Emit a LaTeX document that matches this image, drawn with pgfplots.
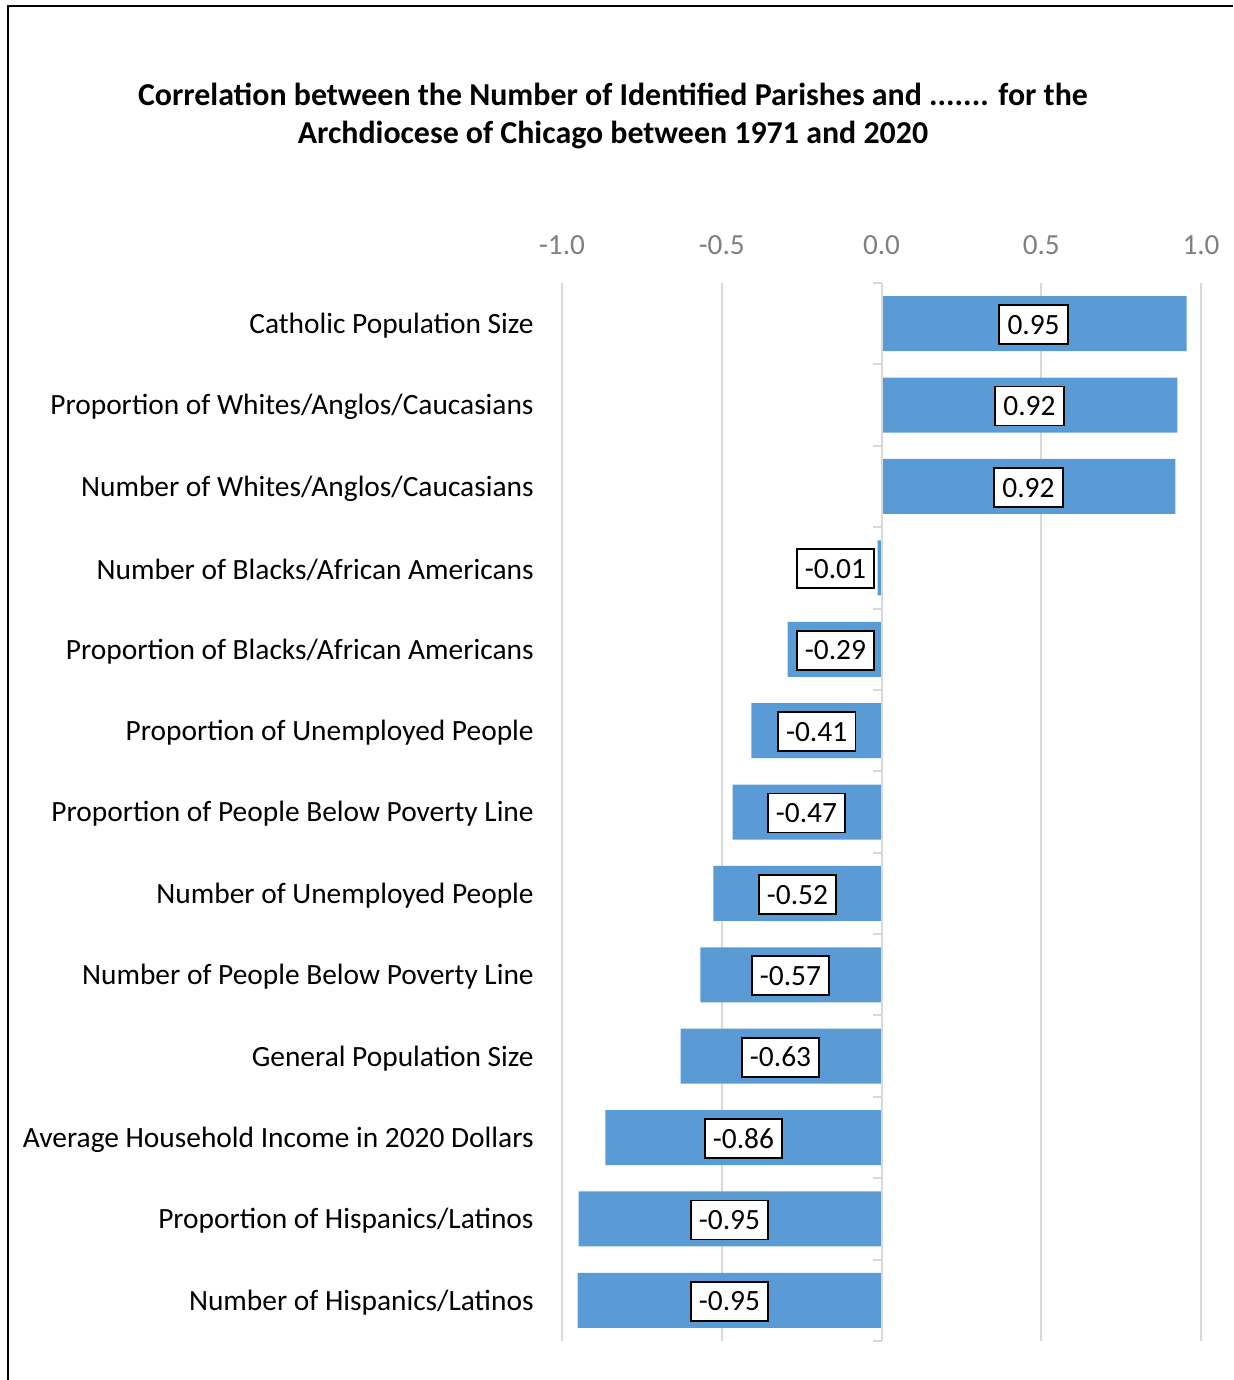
\documentclass[border=0pt]{standalone}
\usepackage{pgfplots}
\pgfplotsset{compat=1.18}
\usepackage{pgfplotstable}
\usepackage{fontspec}
\setmainfont{Carlito}
\definecolor{barblue}{HTML}{5B9BD5}
\definecolor{gridgray}{HTML}{D9D9D9}
\definecolor{tickgray}{HTML}{808080}

\pgfplotstableread{
y v
0 0.955
1 0.926
2 0.920
3 -0.012
4 -0.294
5 -0.407
6 -0.466
7 -0.526
8 -0.567
9 -0.629
10 -0.864
11 -0.948
12 -0.951
}\bars

\pgfplotstableread{
y x lab
0 0.476 0.95
1 0.463 0.92
2 0.460 0.92
3 -0.144 -0.01
4 -0.144 -0.29
5 -0.203 -0.41
6 -0.235 -0.47
7 -0.263 -0.52
8 -0.285 -0.57
9 -0.316 -0.63
10 -0.432 -0.86
11 -0.476 -0.95
12 -0.476 -0.95
}\labels

\begin{document}
\begin{tikzpicture}
\path[use as bounding box] (0,0) rectangle (616.5pt,-690pt);
\begin{scope}[x=0.5pt,y=-0.5pt]
\draw[line width=1pt,black] (8,1380) -- (8,6) -- (1233,6);
\node[anchor=base,font=\fontsize{15.95}{19}\selectfont\bfseries] at (613,106) {Correlation between the Number of Identified Parishes and ....... for the};
\node[anchor=base,font=\fontsize{15.95}{19}\selectfont\bfseries] at (613,144) {Archdiocese of Chicago between 1971 and 2020};
\end{scope}
\begin{axis}[
  at={(281pt,-670.5pt)}, anchor=south west,
  scale only axis, width=319.5pt, height=529pt,
  xmin=-1, xmax=1, ymin=-0.5, ymax=12.5,
  y dir=reverse,
  axis line style={draw=none},
  major tick length=0pt,
  xtick={-1,-0.5,0,0.5,1},
  xticklabels={-1.0,-0.5,0.0,0.5,1.0},
  xticklabel pos=upper,
  xticklabel style={anchor=center, yshift=19pt, text=tickgray, font=\fontsize{14.6}{17}\selectfont},
  xmajorgrids,
  grid style={gridgray, line width=1pt},
  ytick={0,...,12},
  yticklabels={Catholic Population Size,
    Proportion of Whites/Anglos/Caucasians,
    Number of Whites/Anglos/Caucasians,
    Number of Blacks/African Americans,
    Proportion of Blacks/African Americans,
    Proportion of Unemployed People,
    Proportion of People Below Poverty Line,
    Number of Unemployed People,
    Number of People Below Poverty Line,
    General Population Size,
    Average Household Income in 2020 Dollars,
    Proportion of Hispanics/Latinos,
    Number of Hispanics/Latinos},
  yticklabel style={anchor=east, inner sep=0pt, xshift=-14pt, yshift=-1pt, font=\fontsize{14.7}{17}\selectfont},
  clip=false,
]
\addplot[xbar, bar width=27.5pt, fill=barblue, draw=none] table[x=v, y=y] {\bars};
\draw[gridgray, line width=1pt] (axis cs:0,-0.5) -- (axis cs:0,12.5);
\pgfplotsinvokeforeach{-0.5,0.5,1.5,2.5,3.5,4.5,5.5,6.5,7.5,8.5,9.5,10.5,11.5,12.5}{
  \draw[gridgray, line width=1pt] (axis cs:0,#1) -- ++(-4.5pt,0pt);
}
\addplot[only marks, mark=none, point meta=explicit symbolic,
  nodes near coords,
  every node near coord/.append style={anchor=center, draw=black, fill=white, line width=0.9pt,
    inner xsep=4.1pt, inner ysep=0pt, minimum height=19.5pt, text height=9.6pt, text depth=0pt,
    yshift=-0.5pt, font=\fontsize{14.7}{17}\selectfont}]
  table[x=x, y=y, meta=lab] {\labels};
\end{axis}
\end{tikzpicture}
\end{document}
